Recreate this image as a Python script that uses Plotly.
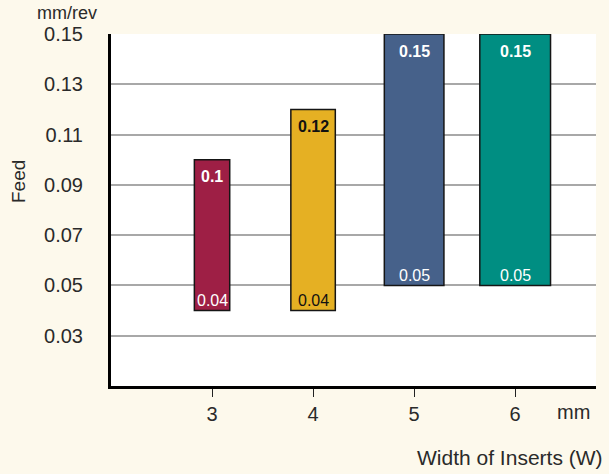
import plotly.graph_objects as go

# Feed ranges per insert width
widths_mm = [3, 4, 5, 6]
feed_min = [0.04, 0.04, 0.05, 0.05]
feed_max = [0.10, 0.12, 0.15, 0.15]
bar_widths = [0.35, 0.44, 0.59, 0.70]
bar_colors = ["#9E1F45", "#E5B023", "#46618A", "#008E82"]
label_colors = ["white", "#111111", "white", "white"]
y_ticks = [0.03, 0.05, 0.07, 0.09, 0.11, 0.13, 0.15]

FONT = "Liberation Sans, Arial, sans-serif"
TEXT = "#2a2a2a"

fig = go.Figure()
fig.add_trace(go.Bar(
    x=widths_mm,
    y=[hi - lo for lo, hi in zip(feed_min, feed_max)],
    base=feed_min,
    width=bar_widths,
    marker=dict(color=bar_colors, line=dict(color="#151515", width=1.5)),
    hoverinfo="skip",
    showlegend=False,
))

annotations = []
for x, lo, hi, c in zip(widths_mm, feed_min, feed_max, label_colors):
    annotations.append(dict(
        x=x, y=hi, xref="x", yref="y", text=f"<b>{hi:g}</b>",
        showarrow=False, xanchor="center", yanchor="middle", yshift=-17,
        font=dict(family=FONT, size=16, color=c),
    ))
    annotations.append(dict(
        x=x, y=lo, xref="x", yref="y", text=f"{lo:g}",
        showarrow=False, xanchor="center", yanchor="middle", yshift=10,
        font=dict(family=FONT, size=16, color=c),
    ))

# free text placed in pixel positions, converted to paper coordinates below
annotations += [
    dict(x=67, y=13, xref="paper", yref="paper", text="mm/rev", showarrow=False,
         xanchor="center", yanchor="middle",
         font=dict(family=FONT, size=18, color=TEXT)),
    dict(x=18, y=182, xref="paper", yref="paper", text="Feed", showarrow=False,
         textangle=-90, xanchor="center", yanchor="middle",
         font=dict(family=FONT, size=19, color=TEXT)),
    dict(x=573, y=412, xref="paper", yref="paper", text="mm", showarrow=False,
         xanchor="center", yanchor="middle",
         font=dict(family=FONT, size=20, color=TEXT)),
    dict(x=605, y=457, xref="paper", yref="paper", text="Width of Inserts (W)",
         showarrow=False, xanchor="right", yanchor="middle",
         font=dict(family=FONT, size=21, color=TEXT)),
]

W, H = 609, 474
L, R, T, B = 111, 13, 34, 88
pw, ph = W - L - R, H - T - B
for a in annotations:
    if a["xref"] == "paper":
        a["x"] = (a["x"] - L) / pw
        a["y"] = 1 - (a["y"] - T) / ph

fig.update_layout(
    width=W, height=H,
    margin=dict(l=L, r=R, t=T, b=B, pad=0),
    paper_bgcolor="#FDF9EC",
    plot_bgcolor="white",
    font=dict(family=FONT, size=20, color=TEXT),
    annotations=annotations,
    xaxis=dict(
        range=[2, 6.8], tickvals=widths_mm, ticks="outside", ticklen=8,
        tickwidth=1.2, tickcolor="#222", showline=True, linecolor="black",
        linewidth=3, showgrid=False, zeroline=False,
        tickfont=dict(family=FONT, size=20, color=TEXT),
    ),
    yaxis=dict(
        range=[0.01, 0.15], tickvals=y_ticks, ticktext=[f"{v:.2f}" for v in y_ticks],
        showline=True, linecolor="black", linewidth=3,
        showgrid=True, gridcolor="#A8A8A8", gridwidth=1.5, zeroline=False,
        ticks="", ticklabelstandoff=21,
        tickfont=dict(family=FONT, size=20, color=TEXT),
    ),
)

fig.write_html("out.html")
